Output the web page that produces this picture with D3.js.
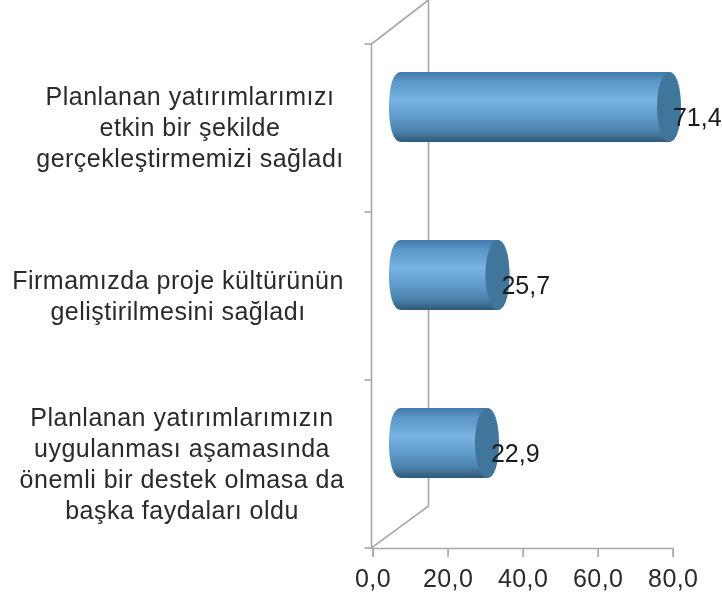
<!DOCTYPE html>
<meta charset="utf-8">
<style>
html, body { margin: 0; padding: 0; background: #fff; }
svg { display: block; }
text { font-family: "Liberation Sans", Arial, sans-serif; fill: #222; }
.cat text { font-size: 25px; letter-spacing: 0.5px; fill: #2a2a2a; }
.val { font-size: 25px; fill: #1a1a1a; }
.x-axis text { font-size: 25px; letter-spacing: 0.4px; fill: #2a2a2a; }
.x-axis path, .x-axis line, .wall { stroke: #a8a8a8; stroke-width: 1.6; fill: none; }
</style>
<body>
<script src="https://cdnjs.cloudflare.com/ajax/libs/d3/7.8.5/d3.min.js"></script>
<script>
var width = 722
var height = 597

var categories = [
    ["Planlanan yatırımlarımızı", "etkin bir şekilde", "gerçekleştirmemizi sağladı"],
    ["Firmamızda proje kültürünün", "geliştirilmesini sağladı"],
    ["Planlanan yatırımlarımızın", "uygulanması aşamasında", "önemli bir destek olmasa da", "başka faydaları oldu"]
]
var values = [71.4, 25.7, 22.9]
var xTicks = [0, 20, 40, 60, 80]

var depthX = 57
var depthY = 42
var capRx = 12

var x = d3.scaleLinear().domain([0, 80]).range([372.5, 672.7])
var y = d3.scaleBand().domain(d3.range(values.length)).range([44, 548])

var comma = function (d) { return d.toFixed(1).replace(".", ",") }

var svg = d3.select("body").append("svg")
    .attr("width", width)
    .attr("height", height)

var defs = svg.append("defs")
defs.append("filter").attr("id", "soft")
    .append("feGaussianBlur").attr("stdDeviation", 0.45)

var grad = defs.append("linearGradient")
    .attr("id", "tube")
    .attr("x1", 0).attr("x2", 0).attr("y1", 0).attr("y2", 1)
grad.selectAll("stop")
    .data([[0, "#4279aa"], [0.12, "#5894c6"], [0.4, "#78b4e0"], [0.62, "#629fce"], [0.85, "#4c82ab"], [1, "#2f5876"]])
    .enter().append("stop")
    .attr("offset", function (d) { return d[0] })
    .attr("stop-color", function (d) { return d[1] })

// walls
var walls = svg.append("g").attr("filter", "url(#soft)")
var front = x(0) - 1
var back = front + depthX
walls.append("path").attr("class", "wall")
    .attr("d", d3.line()([[back, 0], [back, y.range()[1] - depthY], [front, y.range()[1]], [front, y.range()[0]], [back, y.range()[0] - depthY - 2]]))

walls.selectAll(".ytick")
    .data(d3.range(values.length + 1))
    .enter().append("line")
    .attr("class", "wall")
    .attr("x1", front - 7)
    .attr("x2", front)
    .attr("y1", function (d) { return y.range()[0] + d * y.step() })
    .attr("y2", function (d) { return y.range()[0] + d * y.step() })

var xAxis = d3.axisBottom(x)
    .tickValues(xTicks)
    .tickFormat(comma)
    .tickSizeOuter(0)
    .tickSize(9)
    .tickPadding(12)

svg.append("g")
    .attr("class", "x-axis")
    .attr("filter", "url(#soft)")
    .attr("transform", "translate(0," + y.range()[1] + ")")
    .call(xAxis)

// cylinders
var bars = svg.append("g").attr("filter", "url(#soft)")
    .selectAll("g")
    .data(values)
    .enter().append("g")
    .attr("transform", function (d, i) {
        return "translate(0," + (y(i) + y.bandwidth() / 2 - depthY / 2) + ")"
    })

var ry = y.bandwidth() * 0.208

// end curve is a bit squarer than a true ellipse, same as the picture
function endCurve(cx, sign) {
    var k = 0.62
    return "C" + (cx + sign * capRx * k) + "," + (sign * ry) + " " +
        (cx + sign * capRx) + "," + (sign * ry * k) + " " + (cx + sign * capRx) + ",0" +
        "C" + (cx + sign * capRx) + "," + (-sign * ry * k) + " " +
        (cx + sign * capRx * k) + "," + (-sign * ry) + " " + cx + "," + (-sign * ry)
}

bars.append("path")
    .attr("fill", "url(#tube)")
    .attr("d", function (d) {
        var x0 = x(0) + depthX / 2
        var x1 = x(d) + depthX / 2
        return "M" + x1 + "," + ry + endCurve(x1, 1) +
            "L" + x0 + "," + (-ry) + endCurve(x0, -1) + "Z"
    })

bars.append("ellipse")
    .attr("cx", function (d) { return x(d) + depthX / 2 })
    .attr("rx", capRx)
    .attr("ry", ry)
    .attr("fill", "#41769b")

bars.append("text")
    .attr("class", "val")
    .attr("x", function (d) { return x(d) + depthX / 2 + 4 })
    .attr("y", 19)
    .text(comma)

// category labels
var lineH = 31
var labelCenters = [190, 178, 182]
var cats = svg.append("g").attr("class", "cat").attr("filter", "url(#soft)")
    .selectAll("text")
    .data(categories)
    .enter().append("text")
    .attr("text-anchor", "middle")
    .attr("transform", function (d, i) {
        return "translate(" + labelCenters[i] + "," + (y(i) + y.bandwidth() / 2 + 8) + ")"
    })

cats.selectAll("tspan")
    .data(function (d) { return d.map(function (t, i) { return { t: t, dy: (i - (d.length - 1) / 2) * lineH } }) })
    .enter().append("tspan")
    .attr("x", 0)
    .attr("y", function (d) { return d.dy })
    .text(function (d) { return d.t })
</script>
</body>
